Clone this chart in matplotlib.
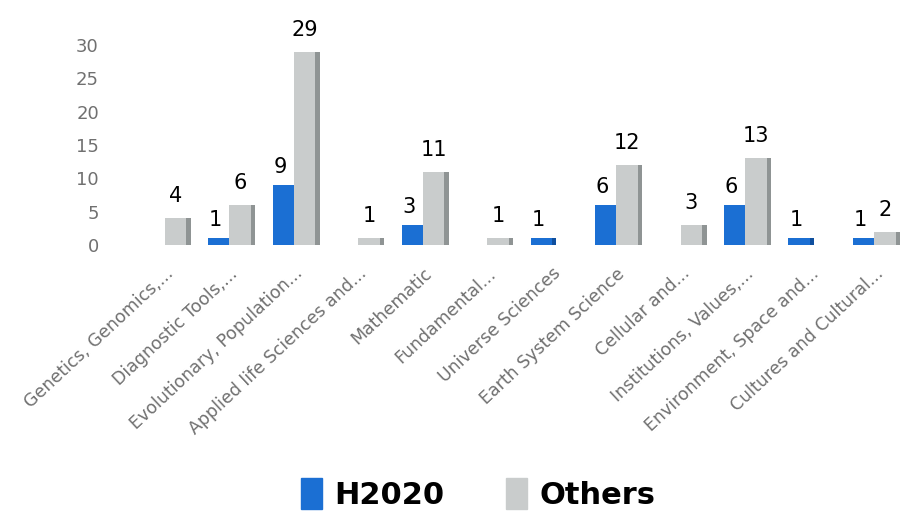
import matplotlib
matplotlib.use("Agg")
import matplotlib.pyplot as plt
import numpy as np
from matplotlib.patches import Patch

categories = ["Genetics, Genomics,...", "Diagnostic Tools,...", "Evolutionary, Population...",
              "Applied life Sciences and...", "Mathematic", "Fundamental...",
              "Universe Sciences", "Earth System Science", "Cellular and...",
              "Institutions, Values,...", "Environment, Space and...", "Cultures and Cultural..."]
h2020 = [0, 1, 9, 0, 3, 0, 1, 6, 0, 6, 1, 1]
others = [4, 6, 29, 1, 11, 1, 0, 12, 3, 13, 0, 2]
yticks = [0, 5, 10, 15, 20, 25, 30]

blue = "#1b6fd3"
blue_side = "#0f4f9e"
grey = "#c9cccc"
grey_side = "#8f9494"

fig = plt.figure(figsize=(9.02, 5.32), dpi=100)
ax = fig.add_axes([110/902, 287/532, 792/902, 200/532])
x = np.arange(len(categories))
w = 0.33
side = 0.07

for xi, hv, ov in zip(x, h2020, others):
    if hv > 0:
        ax.bar(xi - w/2, hv, width=w, color=blue, zorder=3)
        ax.text(xi - w/2 - 0.05, hv + 1.2, str(hv), ha="center", va="bottom",
                fontsize=15, color="black", clip_on=False)
    if ov > 0:
        ax.bar(xi + w/2, ov, width=w, color=grey, zorder=3)
        ax.bar(xi + w + side/2, ov, width=side, color=grey_side, zorder=3)
        ax.text(xi + w/2, ov + 1.8, str(ov), ha="center", va="bottom",
                fontsize=15, color="black", clip_on=False)
    elif hv > 0:
        ax.bar(xi + side/2, hv, width=side, color=blue_side, zorder=3)

ax.set_xlim(-0.85, 11.43)
ax.set_ylim(0, 30)
ax.set_yticks(yticks)
ax.set_yticklabels([str(t) for t in yticks], color="#707070", fontsize=13)
ax.tick_params(axis="y", length=0, pad=8)
ax.set_xticks(x)
ax.set_xticklabels(categories, rotation=43, ha="right", rotation_mode="anchor",
                   color="#707070", fontsize=12.5)
ax.tick_params(axis="x", length=0, pad=14)
for s in ax.spines.values():
    s.set_visible(False)

handles = [Patch(color=blue, label="H2020"), Patch(color=grey, label="Others")]
fig.legend(handles=handles, loc="lower center", bbox_to_anchor=(0.53, -0.01), ncol=2,
           frameon=False, prop={"family": ["Liberation Sans Narrow", "DejaVu Sans"], "weight": "bold", "size": 22},
           handlelength=0.7, handleheight=1.2, handletextpad=0.4, columnspacing=2.0)

fig.savefig("out.png", dpi=100)
